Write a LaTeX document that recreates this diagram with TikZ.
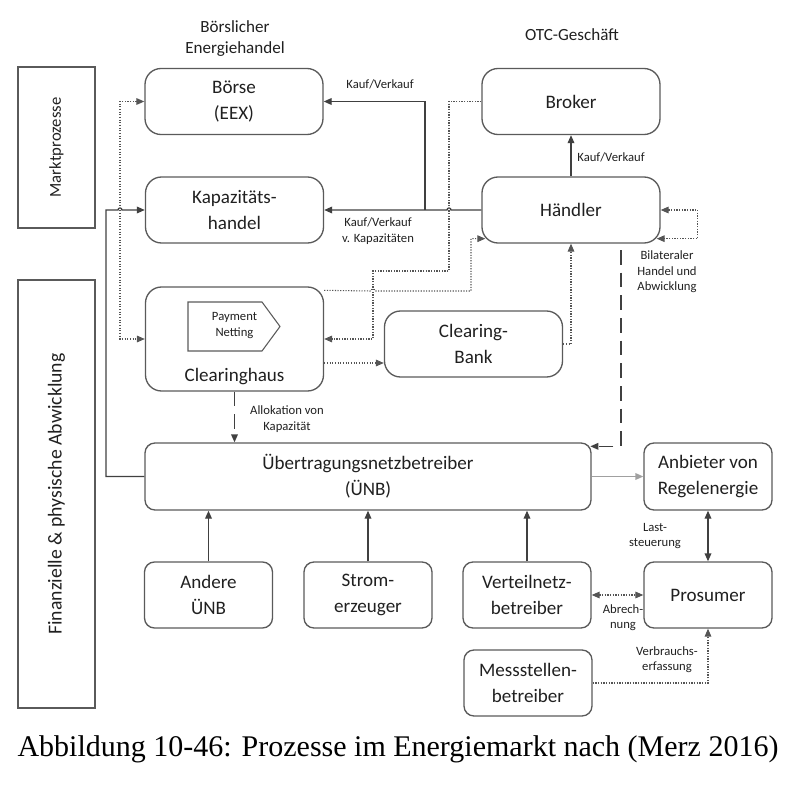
\documentclass[tikz,border=0pt]{standalone}
\usepackage{fontspec}
\setmainfont{Carlito}
\newfontfamily\capfont{Liberation Serif}
\usetikzlibrary{arrows.meta}
\definecolor{linie}{HTML}{404040}
\definecolor{punktgrau}{HTML}{555555}
\definecolor{boxgrau}{HTML}{5A5A5A}
\definecolor{hellgrau}{HTML}{A0A0A0}
\definecolor{schrift}{HTML}{202020}
\begin{document}
\begin{tikzpicture}[x=0.75pt,y=-0.75pt,
  >={Triangle[length=6pt,width=5pt]},
  kasten/.style={draw=boxgrau,line width=1pt,rounded corners=12pt,align=center,inner sep=0pt,
    text=schrift,font=\fontsize{14.3}{19.5}\selectfont,minimum width=133.5pt,minimum height=49.5pt},
  klein/.style={kasten,rounded corners=7.5pt,minimum width=96pt},
  seite/.style={draw=boxgrau,line width=1pt,inner sep=0pt,rotate=90,minimum height=57.75pt,
    text=schrift,font=\fontsize{12.5}{15}\selectfont},
  kopf/.style={align=center,inner sep=0pt,text=schrift,font=\fontsize{12.8}{15.75}\selectfont},
  marke/.style={align=center,inner sep=0pt,text=schrift,font=\fontsize{9.5}{11.5}\selectfont},
  pfeil/.style={draw=linie,line width=1pt,->},
  punkt/.style={draw=punktgrau,line width=0.8pt,dash pattern=on 0.9pt off 1.1pt},
  strich/.style={draw=linie,line width=1pt,dash pattern=on 11pt off 6pt}]
\useasboundingbox (0,0) rectangle (797,792);

\node[kopf] (boersl) at (235,38.5) {Börslicher\\Energiehandel};
\node[kopf] (otc) at (572,35) {OTC-Geschäft};

\node[seite,minimum width=120.75pt] (markt) at (56.5,147.5) {Marktprozesse};
\node[seite,minimum width=321pt,font=\fontsize{14.8}{17}\selectfont] (fin) at (56.5,494) {Finanzielle \& physische Abwicklung};

\node[kasten] (boerse) at (234,101.5) {Börse\\(EEX)};
\node[kasten] (kap) at (234.5,210) {Kapazitäts-\\handel};
\node[kasten] (broker) at (571,101.5) {Broker};
\node[kasten] (haendler) at (571,210) {Händler};
\node[kasten,minimum height=78pt] (clear) at (234.5,339) {};
\node[kasten,draw=none] (chname) at (234.5,377) {Clearinghaus};
\draw[boxgrau,line width=0.8pt] (188,302) -- (262,302) -- (280,326.5) -- (262,351) -- (188,351) -- cycle;
\node[marke] (netz) at (234.5,325.5) {Payment\\Netting};
\node[kasten] (bank) at (473.5,344) {Clearing-\\Bank};

\node[klein,minimum width=334.5pt,minimum height=50.25pt] (uenb) at (368,476.5) {Übertragungsnetzbetreiber\\(ÜNB)};
\node[klein,minimum height=50.25pt] (regel) at (708,476.5) {Anbieter von\\Regelenergie};
\node[klein] (andere) at (208.5,595) {Andere\\ÜNB};
\node[klein] (strom) at (368,595) {Strom-\\erzeuger};
\node[klein] (vnb) at (527,595) {Verteilnetz-\\betreiber};
\node[klein] (prosumer) at (708,595) {Prosumer};
\node[klein] (mess) at (528,683) {Messstellen-\\betreiber};

\path[pfeil] (haendler.west) -- (451,210) arc[start angle=0,end angle=-180,radius=2] -- (kap.east);
\coordinate (abzw) at (425,210);
\path[pfeil] (abzw) |- (boerse.east);
\path[pfeil] (haendler.north) -- (broker.south);
\path[pfeil] (uenb.west) -| (106,300) |- (118,210) arc[start angle=180,end angle=360,radius=2] -- (kap.west);

\path[punkt,<->] (boerse.west) -| (120,220) |- (clear.west);
\path[punkt,->] (broker.west) -| (449,271) -| (373,300) |- (clear.east);
\path[punkt,->] ([yshift=-3pt]clear.north east) -- (371,291) arc[start angle=180,end angle=360,radius=2]
  -| (471,260) |- ([xshift=3pt,yshift=3.75pt]haendler.south west);
\path[punkt,->] (bank.east) -| (haendler.south);
\path[punkt,->] ([yshift=-18pt]clear.east) coordinate (chb) -- (chb -| bank.west);
\path[punkt,<->] (haendler.east) -- ++(37,0) |- ([xshift=-3pt,yshift=3.75pt]haendler.south east);

\path[strich,->] (clear.south) -- (clear.south |- uenb.north);
\coordinate (bilat) at (621,250);
\path[strich,->] (bilat) |- ([xshift=-1pt,yshift=-3pt]uenb.north east);

\path[pfeil] (andere.north) -- (andere.north |- uenb.south);
\path[pfeil] (strom.north) -- (strom.north |- uenb.south);
\path[pfeil] (vnb.north) -- (vnb.north |- uenb.south);
\path[pfeil,draw=hellgrau,-{Triangle[length=6pt,width=5pt,fill=hellgrau]}] (uenb.east) -- (regel.west);
\path[pfeil,<->] (regel.south) -- (prosumer.north);
\path[punkt,<->] (vnb.east) -- (prosumer.west);
\path[punkt,->] (mess.east) -| (prosumer.south);

\node[marke] (kv1) at (380,84) {Kauf/Verkauf};
\node[marke] (kv2) at (378,231) {Kauf/Verkauf\\v. Kapazitäten};
\node[marke] (kv3) at (611,157) {Kauf/Verkauf};
\node[marke] (bh) at (667,272) {Bilateraler\\Handel und\\Abwicklung};
\node[marke] (alloc) at (287,419) {Allokation von\\Kapazität};
\node[marke] (last) at (655,536) {Last-\\steuerung};
\node[marke] (abr) at (623,618) {Abrech-\\nung};
\node[marke] (verb) at (667,660) {Verbrauchs-\\erfassung};

\node[inner sep=0pt,font=\capfont\fontsize{22.5}{27}\selectfont] (titel) at (398,749)
  {Abbildung 10-46: Prozesse im Energiemarkt nach (Merz 2016)};
\end{tikzpicture}
\end{document}
